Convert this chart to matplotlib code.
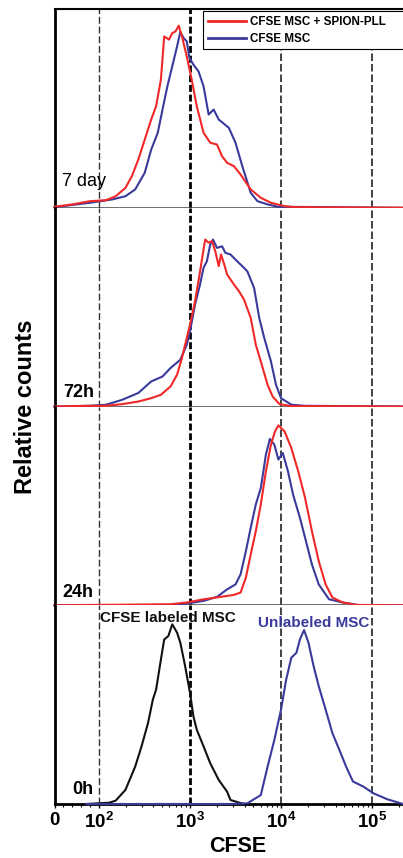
import numpy as np
import matplotlib
matplotlib.use('Agg')
import matplotlib.pyplot as plt
from matplotlib.ticker import FixedLocator, NullFormatter

# --- Fuentes ---
plt.rcParams['font.family'] = ['Liberation Sans', 'DejaVu Sans']
plt.rcParams['mathtext.fontset'] = 'custom'
plt.rcParams['mathtext.rm'] = 'Liberation Sans'
plt.rcParams['mathtext.bf'] = 'Liberation Sans:bold'

# --- Datos (intensidad CFSE, cuentas relativas 0-100 por panel) ---
day7_red_x = [0, 41, 80, 121, 154, 197, 232, 273, 321, 378, 428, 483, 525, 593, 644, 698, 759,
              822, 929, 1052, 1196, 1420, 1682, 1995, 2268, 2577, 3060, 3625, 4680, 6040, 7800,
              11000, 14250, 220000]
day7_red_y = [0.5, 1.7, 3.3, 3.8, 5.8, 10, 15.9, 24.3, 34.3, 44.4, 51.1, 64.5, 86.2, 84.6, 87.9,
              88.7, 91.6, 86.2, 76.2, 64.5, 51.1, 37.7, 32.7, 31.8, 25.9, 22.6, 20.9, 16.7, 9.2,
              5.0, 2.5, 0.8, 0.3, 0]
day7_blue_x = [0, 80, 142, 197, 252, 321, 378, 446, 503, 569, 644, 727, 789, 857, 929, 993, 1099,
               1250, 1420, 1615, 1833, 2084, 2692, 3187, 3784, 4680, 5550, 7170, 9260, 220000]
day7_blue_y = [0.3, 2.5, 4.2, 5.8, 9.2, 17.6, 29.3, 37.7, 49.4, 61.1, 71.2, 81.2, 88.4, 85.4,
               83.7, 75.4, 72.0, 68.6, 61.1, 46.9, 49.4, 44.4, 40.2, 32.7, 20.9, 7.5, 3.3, 1.7,
               0.5, 0]

h72_red_x = [0, 80, 121, 182, 273, 378, 483, 617, 727, 822, 929, 1008, 1145, 1300, 1479, 1615,
             1755, 1911, 2084, 2208, 2366, 2577, 3060, 3479, 3951, 4680, 5321, 6040, 7170, 8150,
             9680, 13060, 220000]
h72_red_y = [0, 0.35, 0.35, 1.2, 2.5, 4.2, 5.9, 10.1, 16.0, 24.4, 34.5, 41.2, 52.9, 68.0, 84.0,
             82.4, 83.2, 78.1, 70.6, 76.5, 72.3, 66.4, 61.4, 58.0, 53.8, 44.6, 31.1, 22.7, 10.9,
             5.0, 1.2, 0.2, 0]
h72_blue_x = [0, 80, 121, 182, 273, 378, 503, 617, 789, 929, 1008, 1145, 1300, 1420, 1545, 1682,
              1803, 1995, 2268, 2466, 2805, 3187, 3784, 4300, 5100, 5800, 6590, 7800, 8870,
              10070, 13060, 18490, 220000]
h72_blue_y = [0, 0.35, 0.9, 3.4, 6.8, 12.6, 15.1, 19.4, 23.5, 31.1, 37.8, 51.3, 61.4, 69.8, 73.1,
              81.5, 84.0, 79.8, 80.6, 77.3, 76.5, 73.9, 70.6, 68.0, 59.6, 44.6, 34.5, 22.7, 10.9,
              4.2, 0.9, 0.35, 0]

h24_red_x = [0, 617, 929, 1420, 2173, 3060, 3625, 4140, 4680, 5321, 6040, 6870, 7800, 8650, 9420,
             11010, 13060, 15560, 18490, 21970, 26120, 31100, 36900, 47900, 67800, 220000]
h24_red_y = [0, 0.5, 1.4, 3.0, 4.2, 5.2, 6.4, 13.9, 25.6, 37.3, 50.7, 67.4, 80.8, 87.5, 90.5,
             87.5, 79.1, 67.4, 54.0, 37.3, 22.2, 10.5, 3.9, 1.4, 0.15, 0]
h24_blue_x = [0, 617, 929, 1420, 1995, 2577, 3187, 3625, 4140, 4680, 5321, 6040, 6870, 7600,
              8510, 9420, 10530, 12000, 13650, 16240, 18490, 21970, 26120, 33900, 47900, 74000,
              220000]
h24_blue_y = [0, 0.15, 0.85, 2.2, 4.2, 8.0, 10.5, 15.6, 27.2, 39.0, 50.7, 59.0, 75.8, 83.7, 80.8,
              73.3, 76.6, 67.4, 55.7, 44.0, 34.0, 20.6, 10.5, 3.0, 1.4, 0, 0]

h0_black_x = [72, 131, 154, 197, 252, 296, 349, 394, 428, 483, 525, 583, 644, 727, 789, 891,
              1008, 1099, 1196, 1420, 1682, 2084, 2577, 2805, 3951]
h0_black_y = [0, 0.65, 1.7, 7.1, 18.8, 29.0, 40.8, 52.5, 57.6, 72.7, 82.8, 84.5, 90.4, 86.2,
              81.2, 69.4, 55.9, 44.1, 37.4, 29.0, 20.5, 12.1, 6.2, 2.0, 0]
h0_blue_x = [72, 2805, 4300, 6040, 7170, 8510, 10070, 11470, 13060, 14860, 16240, 18030, 20150,
             22950, 26120, 31100, 36900, 43950, 52240, 62100, 80400, 104200, 147500, 220000]
h0_blue_y = [0, 0, 0.35, 4.5, 18.8, 32.3, 47.5, 62.6, 73.6, 76.1, 82.8, 87.5, 81.2, 69.4, 59.3,
             47.5, 35.7, 27.3, 18.8, 11.3, 8.8, 5.4, 2.4, 0]

panel_labels = ['7 day', '72h', '24h', '0h']
legend_labels = ['CFSE MSC + SPION-PLL', 'CFSE MSC']
tick_values = [0, 1e2, 1e3, 1e4, 1e5]
tick_labels = ['0', r'$\mathbf{10^2}$', r'$\mathbf{10^3}$', r'$\mathbf{10^4}$', r'$\mathbf{10^5}$']

# --- Estilo ---
RED = '#f02828'
BLUE = '#3a3a9c'
LW = 1.5
X_MAX = 220000

fig, axs = plt.subplots(4, 1, figsize=(4.03, 8.58), dpi=100, sharex=True)
fig.subplots_adjust(left=54.5 / 403, right=1.0, top=1 - 9 / 858, bottom=1 - 804 / 858, hspace=0)

panels = [
    [(day7_blue_x, day7_blue_y, BLUE), (day7_red_x, day7_red_y, RED)],
    [(h72_blue_x, h72_blue_y, BLUE), (h72_red_x, h72_red_y, RED)],
    [(h24_blue_x, h24_blue_y, BLUE), (h24_red_x, h24_red_y, RED)],
    [(h0_black_x, h0_black_y, '#111111'), (h0_blue_x, h0_blue_y, BLUE)],
]
label_pos = [(0.022, 0.108), (0.024, 0.05), (0.024, 0.04), (0.05, 0.05)]

for i, ax in enumerate(axs):
    ax.set_xscale('symlog', linthresh=100, linscale=0.436)
    ax.set_xlim(0, X_MAX)
    ax.set_ylim(0, 100)
    ax.set_yticks([])

    # lineas verticales discontinuas en cada decada
    ax.axvline(1e2, color='#333333', lw=1.0, ls=(0, (5, 2)), zorder=1)
    ax.axvline(1e3, color='#000000', lw=2.0, ls=(0, (2.5, 1)), zorder=1)
    ax.axvline(1e4, color='#222222', lw=1.2, ls=(0, (4.5, 1.8)), zorder=1)
    ax.axvline(1e5, color='#222222', lw=1.2, ls=(0, (4.5, 1.8)), zorder=1)

    for x, y, c in panels[i]:
        ax.plot(x, y, color=c, lw=LW, clip_on=False, zorder=3)

    weight = 'normal' if i == 0 else 'bold'
    ax.text(label_pos[i][0], label_pos[i][1], panel_labels[i], transform=ax.transAxes,
            fontsize=13, fontweight=weight, va='baseline', ha='left')

    ax.spines['right'].set_visible(False)
    ax.spines['left'].set_linewidth(2)
    ax.spines['left'].set_color('black')
    if i > 0:
        ax.spines['top'].set_visible(False)
    else:
        ax.spines['top'].set_linewidth(1.5)
    if i < 3:
        ax.spines['bottom'].set_color('#444444')
        ax.spines['bottom'].set_linewidth(1.8)
        ax.tick_params(axis='x', which='both', bottom=False, labelbottom=False)

# --- Eje x inferior ---
ax_b = axs[3]
ax_b.spines['bottom'].set_linewidth(2)
ax_b.xaxis.set_major_locator(FixedLocator(tick_values))
ax_b.set_xticklabels(tick_labels)
minor_pos = [20, 40, 60, 80] + [m * 10 ** k for k in (2, 3, 4) for m in range(2, 10)] + [2e5]
ax_b.xaxis.set_minor_locator(FixedLocator(minor_pos))
ax_b.xaxis.set_minor_formatter(NullFormatter())
ax_b.tick_params(axis='x', which='major', direction='out', length=3, width=1, pad=3,
                 labelsize=13.5)
ax_b.tick_params(axis='x', which='minor', direction='out', length=2, width=0.8)
for t in ax_b.get_xticklabels():
    t.set_fontweight('bold')

# textos del panel 0h
ax_b.text((100 - 54.5) / 348.5, 0.916, 'CFSE labeled MSC', transform=ax_b.transAxes,
          fontsize=11, fontweight='bold', color='#111111', va='baseline', ha='left')
ax_b.text((258 - 54.5) / 348.5, 0.889, 'Unlabeled MSC', transform=ax_b.transAxes,
          fontsize=11, fontweight='bold', color=BLUE, va='baseline', ha='left')

# --- Leyenda (el marco se sale por la derecha, como en la figura original) ---
handles = [axs[0].lines[-1], axs[0].lines[-2]]
leg = axs[0].legend(handles, legend_labels, loc='upper left',
                    bbox_to_anchor=(203 / 403, 1 - 20 / 858, 215 / 403, 0.01),
                    bbox_transform=fig.transFigure, mode='expand',
                    prop={'size': 8.4, 'weight': 'bold'}, frameon=True, fancybox=False,
                    edgecolor='black', framealpha=1, borderpad=0.4, labelspacing=0.4,
                    handlelength=3.3, handletextpad=0.35, borderaxespad=0)
leg.get_frame().set_linewidth(0.8)
for ln in leg.get_lines():
    ln.set_linewidth(2)

# --- Etiquetas de ejes ---
fig.text(26 / 403, 1 - 407 / 858, 'Relative counts', rotation=90, fontsize=17,
         fontweight='bold', ha='center', va='center')
fig.text(237.5 / 403, 1 - 852 / 858, 'CFSE', fontsize=15.5, fontweight='bold',
         ha='center', va='baseline')

fig.savefig('out.png', dpi=100)
